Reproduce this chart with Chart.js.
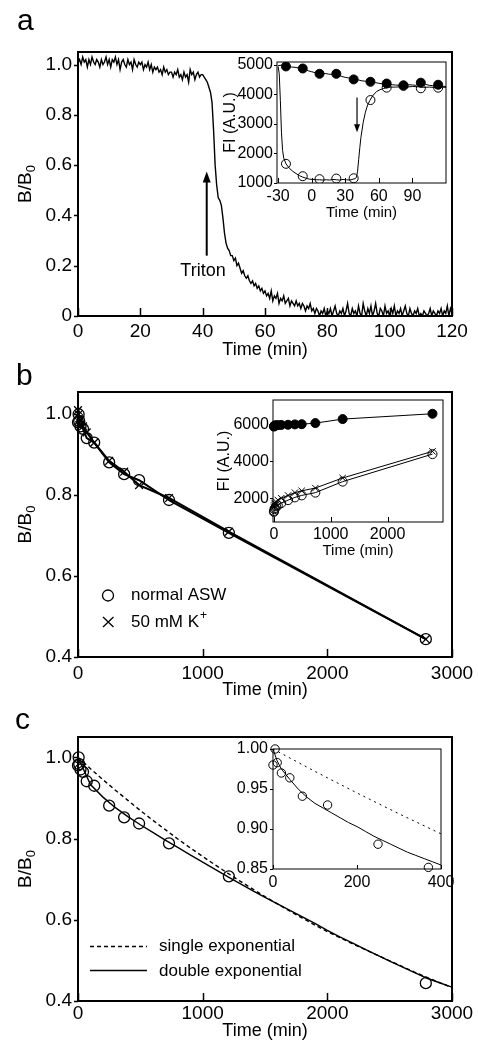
<!DOCTYPE html>
<html><head><meta charset="utf-8">
<script src="https://cdn.jsdelivr.net/npm/chart.js@4.4.0/dist/chart.umd.min.js"></script>
<style>
html,body{margin:0;padding:0;background:#fff;}
#wrap{position:relative;width:478px;height:1044px;overflow:hidden;background:#fff;}
canvas{position:absolute;}
.lab{position:absolute;font-family:"Liberation Sans",Arial,sans-serif;font-size:30px;line-height:30px;color:#000;}
</style></head><body>
<div id="wrap">
<canvas id="cA" width="490" height="328" style="left:0;top:34px"></canvas>
<canvas id="cAi" width="262" height="184" style="left:200px;top:46px"></canvas>
<canvas id="cB" width="490" height="327" style="left:0;top:374px"></canvas>
<canvas id="cBi" width="270" height="176" style="left:190px;top:384px"></canvas>
<canvas id="cC" width="490" height="323" style="left:0;top:719px"></canvas>
<canvas id="cCi" width="270" height="161" style="left:190px;top:733px"></canvas>
<div class="lab" style="left:17px;top:5px">a</div>
<div class="lab" style="left:16px;top:360px">b</div>
<div class="lab" style="left:15px;top:704px">c</div>
</div>
<script>
// ---------------- DATA ----------------
// Panel a: B/B0 trace sampled every 0.5 min
const aSampleStep = 0.5;
const aValues = [
 1.01,1.02,1.00,1.03,1.01,1.02,0.99,1.02,1.00,1.03,1.01,1.00,1.02,1.01,0.99,1.02,1.00,1.01,1.03,1.00,
 1.02,0.99,1.02,1.01,1.03,1.00,1.02,0.98,1.01,1.02,1.00,0.99,1.02,1.00,1.01,0.98,1.02,1.00,0.99,1.01,
 1.00,1.01,0.98,1.00,0.99,1.01,0.98,1.00,0.97,0.99,0.98,0.99,0.97,0.98,0.96,0.99,0.97,0.98,0.96,0.97,
 0.97,0.95,0.97,0.96,0.98,0.95,0.96,0.94,0.97,0.95,0.96,0.93,0.98,0.96,0.97,0.94,0.96,0.97,0.95,0.96,
 0.96,0.95,0.94,0.93,0.91,0.89,0.85,0.74,0.60,0.52,0.47,0.46,0.44,0.39,0.33,0.29,0.27,0.26,0.24,0.24,
 0.22,0.23,0.20,0.21,0.19,0.17,0.18,0.16,0.15,0.16,0.14,0.13,0.14,0.12,0.13,0.11,0.12,0.10,0.11,0.09,
 0.10,0.08,0.09,0.07,0.10,0.06,0.08,0.07,0.09,0.05,0.07,0.06,0.08,0.05,0.06,0.07,0.04,0.06,0.05,0.04,
 0.06,0.04,0.05,0.03,0.05,0.04,0.02,0.04,0.03,0.05,0.02,0.03,0.01,0.03,0.02,0.00,0.02,0.01,0.03,0.00,
 0.02,0.01,0.03,0.00,0.02,0.04,0.01,0.00,0.02,0.01,0.03,0.00,0.02,0.05,0.01,0.00,0.03,0.01,0.02,0.00,
 0.04,0.01,0.00,0.05,0.02,0.00,0.03,0.01,0.04,0.00,0.02,0.05,0.01,0.00,0.03,0.02,0.00,0.04,0.01,0.02,
 0.00,0.03,0.01,0.04,0.00,0.02,0.01,0.03,0.00,0.02,0.04,0.01,0.00,0.03,0.01,0.00,0.02,0.01,0.03,0.00,
 0.01,0.00,0.02,0.01,0.00,0.01,0.03,0.00,0.02,0.01,0.00,0.02,0.01,0.03,0.00,0.02,0.01,0.04,0.00,0.03,0.01
];
const aXTicks = [0,20,40,60,80,100,120];
const aYTicks = [0,0.2,0.4,0.6,0.8,1.0];
const aArrow = {t:41.3, from:0.24, to:0.575, label:'Triton', labelT:40.1, labelY:0.18};

// Panel a inset: fluorescence (A.U.)
const aiFilledLineStart = -30, aiFilledLineStep = 3;
const aiFilledLineVals = [4980,4990,4960,4950,4930,4920,4900,4890,4850,4800,
 4770,4740,4700,4700,4710,4690,4680,4690,4660,4610,
 4580,4560,4510,4500,4490,4460,4450,4430,4420,4400,
 4380,4360,4340,4350,4330,4320,4310,4300,4310,4330,
 4320,4310,4380,4390,4340,4310,4300,4320,4330,4280,4270];
const aiOpenLineTimes = [-30,-29,-28,-27,-26,-25,-23,-20,-17,-14,-11,-8,-5,-2,1,4,7,10,13,16,19,22,25,28,31,34,37,39,40,41,42,43,44,46,48,50,52,55,58,61,64,67,70,75,80,85,90,95,100,105,110,115,120];
const aiOpenLineVals = [4950,4700,3800,2700,2100,1850,1650,1500,1400,1320,1250,1200,1160,1130,1120,1110,1110,1100,1110,1100,1120,1110,1100,1120,1110,1100,1130,1150,1200,1400,1800,2200,2550,3050,3400,3650,3800,3980,4100,4160,4200,4230,4250,4250,4260,4250,4270,4260,4240,4250,4240,4250,4240];
const aiMarkTimes = [-23,-8,7,22,37.5,52.5,67,82,97.5,113];
const aiFilledMarks = [4950,4880,4700,4700,4510,4430,4370,4310,4400,4330];
const aiOpenMarks = [1650,1230,1130,1150,1160,3810,4230,4290,4210,4230];
const aiXTicks = [-30,0,30,60,90];
const aiYTicks = [1000,2000,3000,4000,5000];
const aiArrow = {t:40.5, from:3900, to:2720};

// Panel b
const bTimes = [0,5,10,20,40,70,130,250,370,490,730,1210,2790];
const bNormal = [0.98,1.00,0.983,0.970,0.964,0.941,0.930,0.881,0.852,0.837,0.788,0.707,0.444];
const bK = [1.01,1.00,0.99,0.985,0.97,0.955,0.93,0.885,0.858,0.825,0.793,0.71,0.444];
const bXTicks = [0,1000,2000,3000];
const bYTicks = [0.4,0.6,0.8,1.0];
// Panel b inset (A.U.)
const biFilled = [5900,5930,5950,5960,5970,5980,5990,6000,6020,6030,6090,6310,6600];
const biNormal = [1250,1300,1400,1450,1550,1600,1730,1890,2040,2150,2300,2900,4400];
const biK = [1500,1600,1700,1750,1800,1900,2000,2150,2300,2400,2550,3100,4550];
const biXTicks = [0,1000,2000];
const biYTicks = [2000,4000,6000];

// Panel c: fits
const cFitTimes = [0,100,200,300,400,500,600,700,800,900,1000,1100,1200,1300,1400,1500,1600,1700,1800,1900,2000,2100,2200,2300,2400,2500,2600,2700,2800,2900,3000];
const cSingle = [1.000,0.972,0.945,0.919,0.894,0.869,0.845,0.822,0.799,0.777,0.756,0.735,0.715,0.695,0.676,0.657,0.639,0.621,0.604,0.587,0.571,0.556,0.541,0.527,0.513,0.499,0.485,0.471,0.458,0.445,0.433];
const cDouble = [1.000,0.933,0.902,0.876,0.854,0.834,0.815,0.796,0.778,0.760,0.742,0.724,0.706,0.689,0.672,0.655,0.639,0.623,0.607,0.591,0.574,0.558,0.543,0.528,0.513,0.498,0.484,0.470,0.456,0.445,0.434];
const cXTicks = [0,1000,2000,3000];
const cYTicks = [0.4,0.6,0.8,1.0];
// Panel c inset
const ciSingleTimes = [0,100,200,300,400];
const ciSingle = [1.000,0.972,0.945,0.919,0.894];
const ciDoubleTimes = [0,10,20,40,60,80,100,120,140,160,180,200,220,240,260,280,300,320,340,360,380,400];
const ciDouble = [1.000,0.985,0.975,0.962,0.950,0.940,0.932,0.926,0.920,0.914,0.908,0.903,0.897,0.891,0.886,0.881,0.876,0.871,0.867,0.863,0.859,0.855];
const ciXTicks = [0,200,400];
const ciYTicks = [0.85,0.90,0.95,1.00];

// ---------------- RENDERING ----------------
const FAM = '"Liberation Sans", Arial, Helvetica, sans-serif';
Chart.defaults.font.family = FAM;
Chart.defaults.color = '#000';
Chart.defaults.animation = false;

const pts = (xs, ys) => ys.map((v,i)=>({x:xs[i], y:v}));
const cfgs = {};

function drawYTitle(ctx, ca, t){
  ctx.save();
  ctx.translate(t.x, (ca.top+ca.bottom)/2 + (t.dy||0));
  ctx.rotate(-Math.PI/2);
  ctx.fillStyle = '#000';
  ctx.font = t.size + 'px ' + FAM;
  const w1 = ctx.measureText(t.text).width;
  let w2 = 0;
  const subSize = Math.round(t.size*0.7);
  if (t.sub){ ctx.font = subSize + 'px ' + FAM; w2 = ctx.measureText(t.sub).width; }
  const base = t.size*0.716/2;
  ctx.textBaseline = 'alphabetic'; ctx.textAlign = 'left';
  ctx.font = t.size + 'px ' + FAM;
  ctx.fillText(t.text, -(w1+w2)/2, base);
  if (t.sub){ ctx.font = subSize + 'px ' + FAM; ctx.fillText(t.sub, -(w1+w2)/2 + w1, base + t.size*0.22); }
  ctx.restore();
}

const framePlugin = {
  id: 'frame',
  afterDraw(chart){
    const o = cfgs[chart.canvas.id]; if (!o) return;
    const ctx = chart.ctx, ca = chart.chartArea, xs = chart.scales.x, ys = chart.scales.y;
    ctx.save();
    ctx.strokeStyle = '#000';
    ctx.lineWidth = o.lw;
    ctx.strokeRect(ca.left, ca.top, ca.right-ca.left, ca.bottom-ca.top);
    ctx.lineWidth = o.tw;
    ctx.beginPath();
    xs.ticks.forEach(t => { const p = Math.round(xs.getPixelForValue(t.value))+0.5; ctx.moveTo(p, ca.bottom); ctx.lineTo(p, ca.bottom - o.xIn); });
    ys.ticks.forEach(t => { const p = Math.round(ys.getPixelForValue(t.value))+0.5; ctx.moveTo(ca.left + (o.yIn||0), p); ctx.lineTo(ca.left - o.yOut, p); });
    ctx.stroke();
    if (o.yTitle) drawYTitle(ctx, ca, o.yTitle);
    if (o.extra) o.extra(chart, ctx, xs, ys, ca);
    ctx.restore();
  }
};

function axis(ticksArr, min, max, fmt, fit, opt){
  return {
    type:'linear', min:min, max:max,
    afterBuildTicks: s => { s.ticks = ticksArr.map(v=>({value:v})); },
    afterFit: fit,
    grid:{display:false, drawTicks:false, tickLength:0}, border:{display:false},
    ticks:{autoSkip:false, maxRotation:0, padding:opt.pad, font:{size:opt.size}, color:'#000', callback:v=>fmt(v)},
    title: opt.title ? {display:true, text:opt.title, font:{size:opt.tsize}, color:'#000', padding:{top:0,bottom:opt.tpb}} : {display:false}
  };
}

function makeChart(id, datasets, scales, padding, frame){
  cfgs[id] = frame;
  return new Chart(document.getElementById(id), {
    type:'line',
    data:{datasets},
    options:{
      responsive:false, maintainAspectRatio:false, devicePixelRatio:1, animation:false,
      layout:{padding},
      plugins:{legend:{display:false}, tooltip:{enabled:false}},
      scales
    },
    plugins:[framePlugin]
  });
}

const lineDS = (data, w, extra) => Object.assign({data, borderColor:'#000', borderWidth:w, pointRadius:0, tension:0, fill:false}, extra||{});
const markDS = (data, style, r, filled, bw, extra) => Object.assign({data, showLine:false, pointStyle:style, pointRadius:r,
  pointBorderColor:'#000', pointBackgroundColor: filled ? '#000' : 'rgba(0,0,0,0)', pointBorderWidth:bw, borderColor:'#000', backgroundColor:'rgba(0,0,0,0)'}, extra||{});

const f1 = v => v===0 ? '0' : v.toFixed(1);
const fs = v => String(v);

// ---- Panel a main ----
makeChart('cA',
  [lineDS(aValues.map((v,i)=>({x:i*aSampleStep, y:v})), 1.4)],
  {
    x: axis(aXTicks, 0, 120, fs, s=>{s.height=46;}, {pad:4, size:19, title:'Time (min)', tsize:18, tpb:1}),
    y: axis(aYTicks, 0, 1.05, f1, s=>{s.width=78;}, {pad:6, size:19})
  },
  {top:18, right:38, left:0, bottom:0},
  {lw:2, tw:1.5, xIn:8, yOut:4, yTitle:{text:'B/B', sub:'0', x:24, size:19},
   extra:(ch, ctx, xs, ys)=>{
     const x = xs.getPixelForValue(aArrow.t), y1 = ys.getPixelForValue(aArrow.from), y2 = ys.getPixelForValue(aArrow.to);
     ctx.lineWidth = 2; ctx.beginPath(); ctx.moveTo(x, y1); ctx.lineTo(x, y2+8); ctx.stroke();
     ctx.beginPath(); ctx.moveTo(x, y2); ctx.lineTo(x-4, y2+11); ctx.lineTo(x+4, y2+11); ctx.closePath(); ctx.fillStyle='#000'; ctx.fill();
     ctx.font = '18px ' + FAM; ctx.textAlign='center'; ctx.textBaseline='middle';
     ctx.fillText(aArrow.label, xs.getPixelForValue(aArrow.labelT), ys.getPixelForValue(aArrow.labelY));
   }}
);

// ---- Panel a inset ----
makeChart('cAi',
  [
    lineDS(aiFilledLineVals.map((v,i)=>({x:aiFilledLineStart + i*aiFilledLineStep, y:v})), 1),
    lineDS(pts(aiOpenLineTimes, aiOpenLineVals), 1),
    markDS(pts(aiMarkTimes, aiFilledMarks), 'circle', 4.5, true, 1),
    markDS(pts(aiMarkTimes, aiOpenMarks), 'circle', 4.5, false, 1)
  ],
  {
    x: axis(aiXTicks, -31, 120, fs, s=>{s.height=47;}, {pad:4, size:16, title:'Time (min)', tsize:15, tpb:8}),
    y: axis(aiYTicks, 1000, 5100, fs, s=>{s.width=77;}, {pad:4, size:16})
  },
  {top:16, right:16, left:0, bottom:0},
  {lw:1, tw:1, xIn:5, yOut:3, yTitle:{text:'FI (A.U.)', x:29, size:16},
   extra:(ch, ctx, xs, ys)=>{
     const x = xs.getPixelForValue(aiArrow.t), y1 = ys.getPixelForValue(aiArrow.from), y2 = ys.getPixelForValue(aiArrow.to);
     ctx.lineWidth = 1.2; ctx.beginPath(); ctx.moveTo(x, y1); ctx.lineTo(x, y2-5); ctx.stroke();
     ctx.beginPath(); ctx.moveTo(x, y2); ctx.lineTo(x-3, y2-8); ctx.lineTo(x+3, y2-8); ctx.closePath(); ctx.fillStyle='#000'; ctx.fill();
   }}
);

// ---- Panel b main ----
makeChart('cB',
  [
    lineDS(pts(bTimes, bNormal), 2),
    lineDS(pts(bTimes, bK), 2),
    markDS(pts(bTimes, bNormal), 'circle', 5.5, false, 1.3, {clip:8}),
    markDS(pts(bTimes, bK), 'crossRot', 5.5, false, 1.3, {clip:8})
  ],
  {
    x: axis(bXTicks, 0, 3000, fs, s=>{s.height=44;}, {pad:5, size:19, title:'Time (min)', tsize:18, tpb:0}),
    y: axis(bYTicks, 0.4, 1.055, f1, s=>{s.width=78;}, {pad:6, size:19})
  },
  {top:18, right:38, left:0, bottom:0},
  {lw:2, tw:1.5, xIn:8, yOut:4, yTitle:{text:'B/B', sub:'0', x:24, size:19},
   extra:(ch, ctx)=>{
     ctx.lineWidth = 1.3;
     ctx.beginPath(); ctx.arc(108, 221.5, 5.5, 0, Math.PI*2); ctx.stroke();
     ctx.beginPath(); ctx.moveTo(103, 243); ctx.lineTo(113.5, 253); ctx.moveTo(113.5, 243); ctx.lineTo(103, 253); ctx.stroke();
     ctx.fillStyle='#000'; ctx.textAlign='left'; ctx.textBaseline='middle';
     ctx.font = '17px ' + FAM;
     ctx.fillText('normal ASW', 131, 221);
     ctx.fillText('50 mM K', 131, 248);
     const w = ctx.measureText('50 mM K').width;
     ctx.font = '12px ' + FAM; ctx.fillText('+', 131 + w + 1, 242);
   }}
);

// ---- Panel b inset ----
makeChart('cBi',
  [
    lineDS(pts(bTimes, biFilled), 1),
    lineDS(pts(bTimes, biNormal), 1),
    lineDS(pts(bTimes, biK), 1),
    markDS(pts(bTimes, biFilled), 'circle', 4.5, true, 1, {clip:6}),
    markDS(pts(bTimes, biNormal), 'circle', 4.5, false, 1, {clip:6}),
    markDS(pts(bTimes, biK), 'crossRot', 4.5, false, 1, {clip:6})
  ],
  {
    x: axis(biXTicks, -15, 2975, fs, s=>{s.height=38;}, {pad:2.5, size:16, title:'Time (min)', tsize:15, tpb:0}),
    y: axis(biYTicks, 700, 7350, fs, s=>{s.width=83;}, {pad:4, size:16})
  },
  {top:16, right:17, left:0, bottom:0},
  {lw:1, tw:1, xIn:5, yOut:3, yTitle:{text:'FI (A.U.)', x:33, size:16}}
);

// ---- Panel c main ----
makeChart('cC',
  [
    lineDS(pts(cFitTimes, cSingle), 1.4, {borderDash:[4,3]}),
    lineDS(pts(cFitTimes, cDouble), 1.4),
    markDS(pts(bTimes, bNormal), 'circle', 5.5, false, 1.3, {clip:8})
  ],
  {
    x: axis(cXTicks, 0, 3000, fs, s=>{s.height=41;}, {pad:1, size:19, title:'Time (min)', tsize:18, tpb:0}),
    y: axis(cYTicks, 0.4, 1.05, f1, s=>{s.width=78;}, {pad:6, size:19})
  },
  {top:18, right:38, left:0, bottom:0},
  {lw:2, tw:1.5, xIn:8, yOut:4, yTitle:{text:'B/B', sub:'0', x:24, size:19},
   extra:(ch, ctx)=>{
     ctx.lineWidth = 1.4;
     ctx.setLineDash([4,3]); ctx.beginPath(); ctx.moveTo(90, 227.5); ctx.lineTo(147, 227.5); ctx.stroke();
     ctx.setLineDash([]); ctx.beginPath(); ctx.moveTo(90, 251.5); ctx.lineTo(147, 251.5); ctx.stroke();
     ctx.fillStyle='#000'; ctx.textAlign='left'; ctx.textBaseline='middle';
     ctx.font = '17px ' + FAM;
     ctx.fillText('single exponential', 159, 227);
     ctx.fillText('double exponential', 159, 252);
   }}
);

// ---- Panel c inset ----
const ciTimes = bTimes.filter(t => t <= 400);
const ciVals = bNormal.slice(0, ciTimes.length);
makeChart('cCi',
  [
    lineDS(pts(ciSingleTimes, ciSingle), 1, {borderDash:[2,4]}),
    lineDS(pts(ciDoubleTimes, ciDouble), 1),
    markDS(pts(ciTimes, ciVals), 'circle', 4.2, false, 1, {clip:6})
  ],
  {
    x: axis(ciXTicks, 0, 400, fs, s=>{s.height=25;}, {pad:4, size:16}),
    y: axis(ciYTicks, 0.85, 1.0, v=>v.toFixed(2), s=>{s.width=83;}, {pad:5, size:16})
  },
  {top:16, right:19, left:0, bottom:0},
  {lw:1, tw:1, xIn:4, yOut:3}
);
</script>
</body></html>
